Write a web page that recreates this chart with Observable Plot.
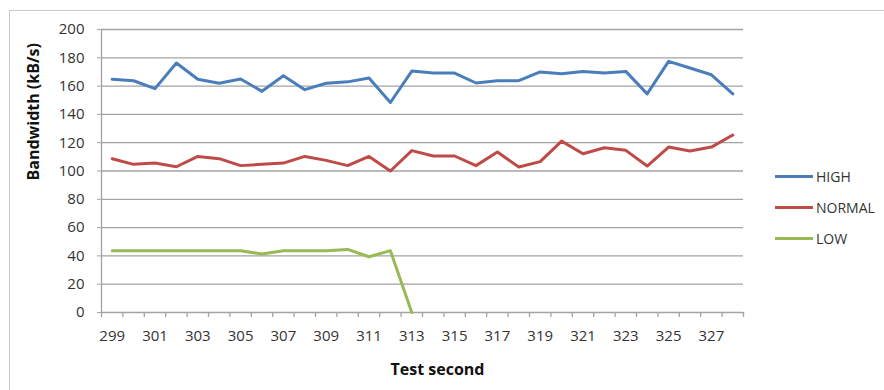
<!DOCTYPE html>
<html>
<head>
<meta charset="utf-8">
<script src="https://cdn.jsdelivr.net/npm/d3@7"></script>
<script src="https://cdn.jsdelivr.net/npm/@observablehq/plot@0.6"></script>
<style>
  html, body { margin: 0; padding: 0; background: #fff; overflow: hidden; }
  #wrap { position: relative; width: 884px; height: 390px; font-family: "Open Sans", sans-serif; }
  #frame { position: absolute; left: 9px; top: 10px; width: 900px; height: 420px; border: 1px solid #c9c9c9; box-sizing: border-box; }
  #chart { position: absolute; left: 0; top: 0; }
  .legend { position: absolute; left: 775px; top: 160.5px; color: #333; font-size: 14px; }
  .legend .item { position: relative; height: 31px; display: flex; align-items: center; }
  .legend .swatch { width: 38px; height: 3px; margin-right: 3px; }
</style>
</head>
<body>
<div id="wrap">
  <div id="frame"></div>
  <div id="chart"></div>
  <div class="legend" id="legend"></div>
</div>
<script>
// Test seconds on the horizontal axis
const seconds = [299, 300, 301, 302, 303, 304, 305, 306, 307, 308, 309, 310, 311, 312, 313,
                 314, 315, 316, 317, 318, 319, 320, 321, 322, 323, 324, 325, 326, 327, 328];

// Bandwidth per priority class, kB/s
const high = [164.8, 163.8, 158.2, 176.3, 164.8, 162.0, 165.0, 156.3, 167.3, 157.5, 162.0, 163.0, 165.7, 148.4, 170.6,
              169.2, 169.2, 162.2, 163.8, 163.8, 170.0, 168.8, 170.4, 169.2, 170.4, 154.5, 177.5, 172.8, 168.0, 154.5];
const normal = [108.7, 104.7, 105.6, 103.0, 110.3, 108.7, 103.8, 104.7, 105.6, 110.3, 107.5, 103.8, 110.3, 100.0, 114.4,
                110.6, 110.6, 103.8, 113.4, 102.8, 106.6, 121.1, 112.2, 116.4, 114.6, 103.5, 116.9, 114.1, 116.9, 125.4];
// LOW stops after second 313
const low = [43.7, 43.7, 43.7, 43.7, 43.7, 43.7, 43.7, 41.3, 43.7, 43.7, 43.7, 44.6, 39.4, 43.7, 0];

const seriesNames = ["HIGH", "NORMAL", "LOW"];
const seriesColors = ["#4a7ebb", "#be4b48", "#98b954"];
const yTicks = [0, 20, 40, 60, 80, 100, 120, 140, 160, 180, 200];
const xTickLabels = [299, 301, 303, 305, 307, 309, 311, 313, 315, 317, 319, 321, 323, 325, 327];

const rows = [];
[high, normal, low].forEach((vals, k) => {
  vals.forEach((v, i) => rows.push({second: seconds[i], value: v, series: seriesNames[k]}));
});

// category boundaries for the x tick marks
const boundaries = seconds.map(s => s - 0.5).concat([seconds[seconds.length - 1] + 0.5]);

const gridColor = "#a3a3a3";
const textColor = "#333333";

const chart = Plot.plot({
  width: 884,
  height: 390,
  marginLeft: 101,
  marginRight: 141,
  marginTop: 29,
  marginBottom: 78,
  style: {fontFamily: "'Open Sans', sans-serif", background: "transparent"},
  x: {type: "linear", domain: [boundaries[0], boundaries[boundaries.length - 1]]},
  y: {domain: [0, 200]},
  color: {domain: seriesNames, range: seriesColors},
  marks: [
    Plot.gridY(yTicks, {stroke: gridColor, strokeOpacity: 1, strokeWidth: 1.3}),
    Plot.ruleX([boundaries[0]], {stroke: gridColor, strokeWidth: 1.3}),
    Plot.axisY(yTicks, {tickSize: 4, tickPadding: 13, fontSize: 15, stroke: gridColor, fill: textColor, label: null}),
    Plot.axisX(boundaries, {tickSize: 5, tickFormat: () => "", stroke: gridColor, strokeWidth: 1.3, label: null}),
    Plot.axisX(xTickLabels, {tickSize: 0, tickPadding: 18, fontSize: 15, fill: textColor, tickFormat: d => String(d), label: null}),
    Plot.line(rows, {x: "second", y: "value", z: "series", stroke: "series", strokeWidth: 3}),
    Plot.text(["Test second"], {frameAnchor: "bottom", dx: 15, dy: 57, lineAnchor: "middle", fontSize: 16, fontWeight: "bold", fill: "#111"}),
    Plot.text(["Bandwidth (kB/s)"], {frameAnchor: "left", rotate: -90, dx: -68, dy: 9.5, lineAnchor: "middle", fontSize: 16, fontWeight: "bold", fill: "#111"})
  ]
});
document.getElementById("chart").appendChild(chart);

// legend to the right of the plot
const legend = document.getElementById("legend");
seriesNames.forEach((name, k) => {
  const item = document.createElement("div");
  item.className = "item";
  const sw = document.createElement("span");
  sw.className = "swatch";
  sw.style.background = seriesColors[k];
  const label = document.createElement("span");
  label.textContent = name;
  item.appendChild(sw);
  item.appendChild(label);
  legend.appendChild(item);
});
</script>
</body>
</html>
